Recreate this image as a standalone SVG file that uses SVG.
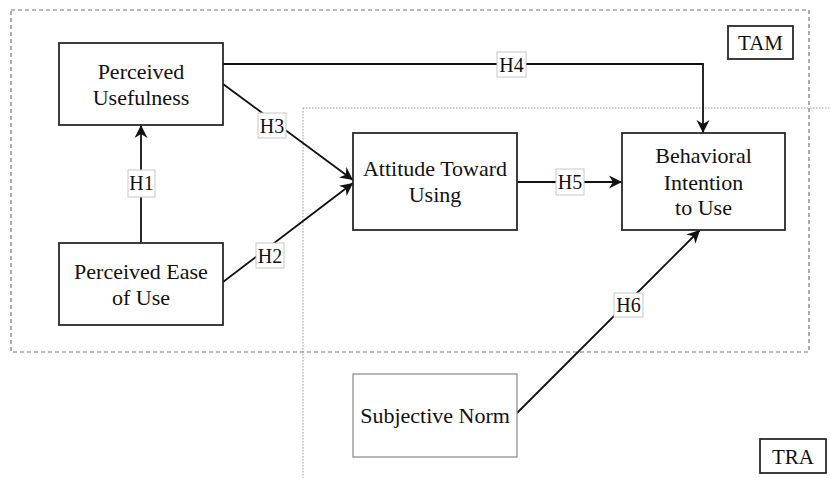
<svg xmlns="http://www.w3.org/2000/svg" width="830" height="478" viewBox="0 0 830 478">
<defs>
<style>
.node rect{fill:#fff;stroke:#2a2a2a;stroke-width:1.8}
.t{font-family:"Liberation Serif","Times New Roman",serif;font-size:22px;fill:#111;text-anchor:middle}
.lbl rect{fill:#fff;stroke:#c8c8c8;stroke-width:1}
.lbl text{font-family:"Liberation Serif","Times New Roman",serif;font-size:20px;fill:#111;text-anchor:middle}
.edge{fill:none;stroke:#111;stroke-width:1.8;marker-end:url(#arr)}
</style>
<marker id="arr" markerUnits="userSpaceOnUse" markerWidth="15" markerHeight="14" refX="13" refY="7" orient="auto">
<path d="M0,0.5 L13,7 L0,13.5 L4,7 Z" fill="#111"/>
</marker>
</defs>
<rect width="830" height="478" fill="#fff"/>
<g id="regions">
<rect x="11" y="10" width="798" height="342" fill="none" stroke="#777" stroke-width="1.2" stroke-dasharray="4,3"/>
<path d="M303,108 H830 M303,108 V478" fill="none" stroke="#999" stroke-width="1" stroke-dasharray="1.5,1.5"/>
</g>
<g id="connectors">
<path class="edge" d="M141,243 V125"/>
<path class="edge" d="M223,84 L353,180"/>
<path class="edge" d="M223,282 L353,183"/>
<path class="edge" d="M223,64 H703 V133"/>
<path class="edge" d="M517,182 H622"/>
<path class="edge" d="M517,413 L700,230"/>
<g class="lbl"><rect x="128" y="170" width="27" height="27"/><text x="141.5" y="190">H1</text></g>
<g class="lbl"><rect x="258" y="113" width="28" height="25"/><text x="272" y="132.5">H3</text></g>
<g class="lbl"><rect x="256" y="243" width="28" height="25"/><text x="270" y="262.5">H2</text></g>
<g class="lbl"><rect x="497" y="52" width="29" height="25"/><text x="511.5" y="71.5">H4</text></g>
<g class="lbl"><rect x="556" y="169" width="28" height="26"/><text x="570" y="189">H5</text></g>
<g class="lbl"><rect x="614" y="293" width="29" height="24"/><text x="628.5" y="312">H6</text></g>
</g>
<g id="pu" class="node"><rect x="59" y="43" width="164" height="82"/><text class="t" x="141" y="78.5">Perceived</text><text class="t" x="141" y="104.5">Usefulness</text></g>
<g id="peou" class="node"><rect x="59" y="243" width="164" height="82"/><text class="t" x="141" y="278.5">Perceived Ease</text><text class="t" x="141" y="304.5">of Use</text></g>
<g id="att" class="node"><rect x="353" y="133" width="164" height="97"/><text class="t" x="435" y="175.5">Attitude Toward</text><text class="t" x="435" y="201.5">Using</text></g>
<g id="bi" class="node"><rect x="622" y="133" width="163" height="97"/><text class="t" x="703.5" y="163">Behavioral</text><text class="t" x="703.5" y="189.5">Intention</text><text class="t" x="703.5" y="215">to Use</text></g>
<g id="sn" class="node"><rect x="353" y="374" width="164" height="83" style="stroke:#888;stroke-width:1.2"/><text class="t" x="435" y="422.5">Subjective Norm</text></g>
<g id="tam" class="node"><rect x="728" y="26" width="65" height="33"/><text class="t" x="760.5" y="50" style="font-size:21px">TAM</text></g>
<g id="tra" class="node"><rect x="760" y="439" width="66" height="34"/><text class="t" x="793" y="463.5" style="font-size:21px">TRA</text></g>
</svg>
